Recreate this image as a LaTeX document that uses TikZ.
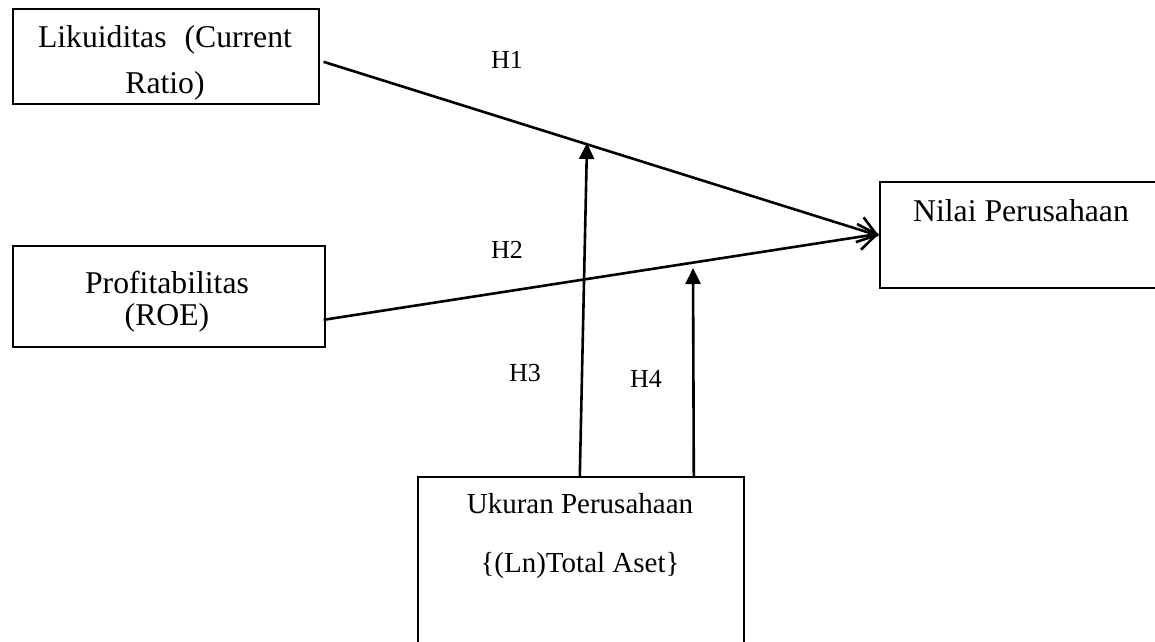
\documentclass[tikz,border=0pt]{standalone}
\usepackage{fontspec}
\setmainfont{Liberation Serif}
\usetikzlibrary{arrows.meta,calc}
\begin{document}
\begin{tikzpicture}[x=1pt,y=-1pt,
  box/.style={draw=black,line width=1.6pt,rectangle,inner sep=0pt,anchor=north west},
  txt/.style={inner sep=0pt,anchor=base,font=\fontsize{31.7}{38}\selectfont},
  smalltxt/.style={inner sep=0pt,anchor=base,font=\fontsize{29}{35}\selectfont},
  hlab/.style={inner sep=0pt,anchor=center,font=\fontsize{26}{31}\selectfont},
  conn/.style={line width=2.6pt,-{Straight Barb[length=18pt,width=26pt,line width=2.6pt]}},
  modarrow/.style={line width=2.6pt,-{Triangle[length=16pt,width=15pt]}}]
\clip (0,0) rectangle (1155,641);
\fill[white] (0,0) rectangle (1155,641);
% boxes
\node[box,minimum width=306pt,minimum height=95pt] (lik) at (12,8) {};
\node[box,minimum width=312pt,minimum height=101pt] (prof) at (12,245) {};
\node[box,minimum width=300pt,minimum height=106pt] (nilai) at (879,181) {};
\node[box,minimum width=326pt,minimum height=200pt] (uk) at (417,476) {};
% texts
\node[txt] (likA) at (165,47) {Likuiditas\hspace{18pt}(Current};
\node[txt] (likB) at (165,93) {Ratio)};
\node[txt] (profA) at (167,293) {Profitabilitas};
\node[txt] (profB) at (167,325) {(ROE)};
\node[txt] (nilaiT) at (1021,221) {Nilai Perusahaan};
\node[smalltxt] (ukA) at (580,513) {Ukuran Perusahaan};
\node[smalltxt] (ukB) at (580,572) {\{(Ln)Total Aset\}};
% hypothesis labels
\node[hlab] (h1) at (507,60) {H1};
\node[hlab] (h2) at (507,250) {H2};
\node[hlab] (h3) at (525,373) {H3};
\node[hlab] (h4) at (646,379) {H4};
% connectors
\draw[conn] ([shift={(4,5.5)}]lik.east) -- ([yshift=-1pt]nilai.west);
\draw[conn] ([shift={(-2,23.5)}]prof.east) -- ([yshift=1pt]nilai.west);
\draw[modarrow] ([xshift=-1pt]uk.north) -- (587,143) coordinate (t3);
\draw[modarrow] ([xshift=113pt]uk.north) -- (693,268) coordinate (t4);
\end{tikzpicture}
\end{document}
